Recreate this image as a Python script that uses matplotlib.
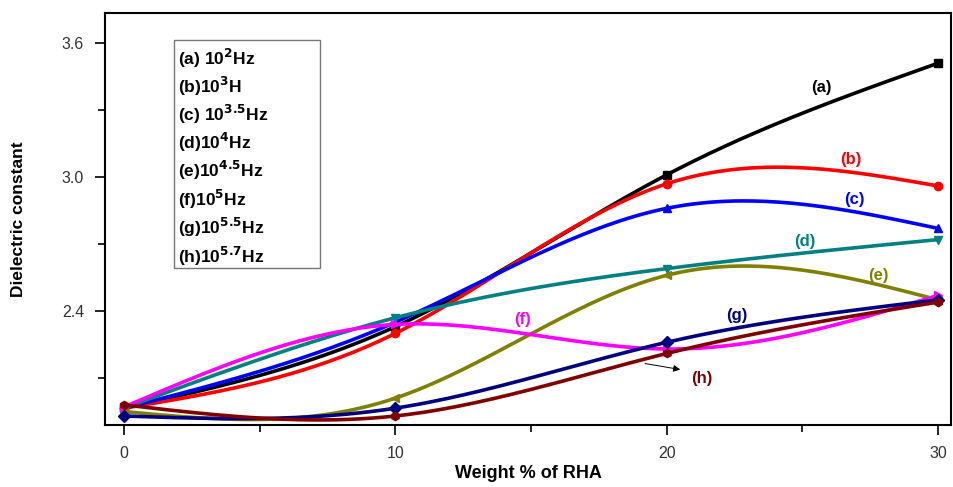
import numpy as np
import matplotlib
matplotlib.use("Agg")
import matplotlib.pyplot as plt
from matplotlib.patches import Rectangle

plt.rcParams['font.family'] = ['Liberation Sans', 'DejaVu Sans']
plt.rcParams['mathtext.default'] = 'bf'

# weight % of RHA and dielectric constant
weight = [0, 10, 20, 30]
eps_a = [1.965, 2.33, 3.01, 3.51]
eps_b = [1.965, 2.30, 2.97, 2.96]
eps_c = [1.965, 2.35, 2.86, 2.77]
eps_d = [1.965, 2.37, 2.59, 2.72]
eps_e = [1.950, 2.01, 2.56, 2.45]
eps_f = [1.970, 2.34, 2.23, 2.47]
eps_g = [1.930, 1.965, 2.26, 2.45]
eps_h = [1.980, 1.930, 2.21, 2.44]

series = [eps_a, eps_b, eps_c, eps_d, eps_e, eps_f, eps_g, eps_h]
tags = ['(a)', '(b)', '(c)', '(d)', '(e)', '(f)', '(g)', '(h)']
legend_rows = [r'(a) 10$^{2}$Hz', r'(b)10$^{3}$H', r'(c) 10$^{3.5}$Hz', r'(d)10$^{4}$Hz',
               r'(e)10$^{4.5}$Hz', r'(f)10$^{5}$Hz', r'(g)10$^{5.5}$Hz', r'(h)10$^{5.7}$Hz']
colors = ['#000000', '#ff0000', '#0000ff', '#008080', '#808000', '#ff00ff', '#000080', '#800000']
markers = ['s', 'o', '^', 'v', '<', '>', 'D', 'h']
# where the (a)..(h) tags sit on the plot
tag_x = [25.7, 26.8, 26.9, 25.1, 27.8, 14.7, 22.6, 21.3]
tag_y = [3.40, 3.08, 2.90, 2.71, 2.56, 2.36, 2.38, 2.10]


def natural_spline(x, y, n=200):
    # plain natural cubic spline, just for the smooth connecting line
    x = np.asarray(x, float)
    y = np.asarray(y, float)
    k = len(x)
    h = np.diff(x)
    A = np.zeros((k, k))
    r = np.zeros(k)
    A[0, 0] = A[-1, -1] = 1
    for i in range(1, k - 1):
        A[i, i - 1] = h[i - 1]
        A[i, i] = 2 * (h[i - 1] + h[i])
        A[i, i + 1] = h[i]
        r[i] = 6 * ((y[i + 1] - y[i]) / h[i] - (y[i] - y[i - 1]) / h[i - 1])
    M = np.linalg.solve(A, r)
    xs = np.linspace(x[0], x[-1], n)
    idx = np.clip(np.searchsorted(x, xs) - 1, 0, k - 2)
    x0, x1 = x[idx], x[idx + 1]
    hh = x1 - x0
    a = (x1 - xs) / hh
    b = (xs - x0) / hh
    ys = (a * y[idx] + b * y[idx + 1]
          + ((a ** 3 - a) * M[idx] + (b ** 3 - b) * M[idx + 1]) * hh ** 2 / 6)
    return xs, ys


fig = plt.figure(figsize=(9.54, 4.87), dpi=100)
ax = fig.add_axes([0.110, 0.127, 0.887, 0.846])

for vals, col, mk in zip(series, colors, markers):
    xs, ys = natural_spline(weight, vals)
    ax.plot(xs, ys, color=col, lw=2.6, solid_capstyle='round')
    ax.plot(weight, vals, linestyle='none', marker=mk, color=col, ms=6)

for t, tx, ty, col in zip(tags, tag_x, tag_y, colors):
    ax.text(tx, ty, t, color=col, fontsize=12, fontweight='bold', ha='center', va='center')

ax.annotate('', xy=(20.6, 2.136), xytext=(19.1, 2.167),
            arrowprops=dict(arrowstyle='-|>', color='black', lw=0.7, mutation_scale=10))

# legend box drawn by hand, like the original
ax.add_patch(Rectangle((0.0816, 0.381), 0.172, 0.553, transform=ax.transAxes,
                       facecolor='white', edgecolor='#777777', lw=1, zorder=5))
row_y = [58, 86, 114, 142, 170, 199, 227, 256]
for txt, py in zip(legend_rows, row_y):
    ax.text(0.0863, (425 - py) / 412, txt, transform=ax.transAxes, fontsize=12.5,
            fontweight='bold', va='center', ha='left', zorder=6)

ax.set_xlim(-0.7, 30.48)
ax.set_ylim(1.889, 3.734)
ax.set_xticks([0, 10, 20, 30])
ax.set_xticks([5, 15, 25], minor=True)
ax.set_yticks([2.4, 3.0, 3.6])
ax.set_yticks([2.1, 2.7, 3.3], minor=True)
ax.tick_params(which='both', direction='out', width=1.2, labelsize=11.5, colors='black',
               labelcolor='#333333', pad=8)
ax.tick_params(which='major', length=7)
ax.tick_params(which='minor', length=5)
for s in ax.spines.values():
    s.set_linewidth(1.5)

ax.set_xlabel('Weight % of RHA', fontsize=13, fontweight='bold', labelpad=3)
ax.set_ylabel('Dielectric constant', fontsize=12.5, fontweight='bold', labelpad=26)

fig.savefig('out.png', dpi=100)
